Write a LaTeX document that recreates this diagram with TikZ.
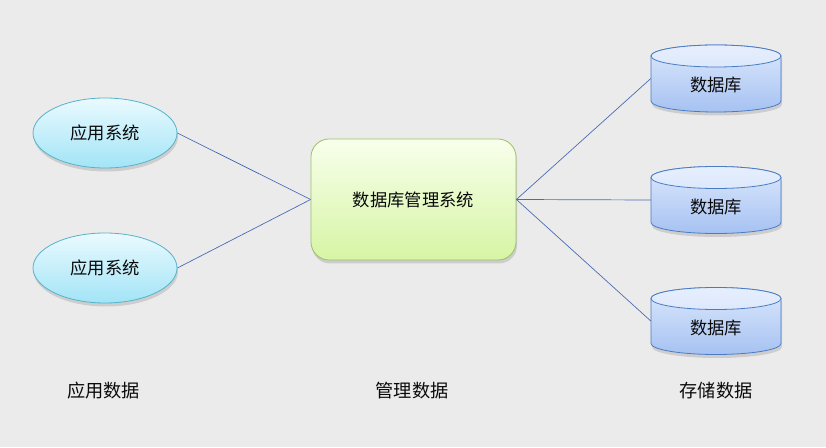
\documentclass[tikz,border=0pt]{standalone}
\usepackage{fontspec}
\setmainfont{Noto Sans CJK SC}
\usetikzlibrary{shapes.geometric,shadows}

\definecolor{bgc}{HTML}{EBEBEB}
\definecolor{apptop}{HTML}{EAFAFF}
\definecolor{appbot}{HTML}{A2E4F6}
\definecolor{appline}{HTML}{58B2CA}
\definecolor{mgrtop}{HTML}{F8FFEC}
\definecolor{mgrbot}{HTML}{D6F5A4}
\definecolor{mgrline}{HTML}{9CC062}
\definecolor{dbtop}{HTML}{DCE8FC}
\definecolor{dbbot}{HTML}{A6C2F2}
\definecolor{dbline}{HTML}{4A7CC4}
\definecolor{linkc}{HTML}{4A6CB4}
\definecolor{txt}{HTML}{0A0A0A}

\tikzset{
  softshadow/.style={drop shadow={opacity=0.28, shadow xshift=1pt, shadow yshift=-3.5pt}},
  appnode/.style={ellipse, minimum width=144pt, minimum height=70pt, inner sep=0pt,
    draw=appline, line width=0.8pt, top color=apptop, bottom color=appbot, softshadow},
  mgrnode/.style={rectangle, rounded corners=18pt, minimum width=205pt, minimum height=121pt,
    inner sep=0pt, draw=mgrline, line width=0.8pt, top color=mgrtop, bottom color=mgrbot, softshadow},
  dbbody/.style={rectangle, minimum width=130pt, minimum height=67pt, inner sep=0pt},
  dbfill/.style={draw=dbline, line width=0.8pt, top color=dbtop, bottom color=dbbot, softshadow},
  dbcap/.style={draw=dbline, line width=0.8pt, top color=dbtop!70!white, bottom color=dbtop},
  link/.style={draw=linkc, line width=0.7pt},
  caption/.style={text=txt, inner sep=0pt},
  bigcaption/.style={caption, font=\fontsize{18.2}{20}\selectfont}
}

% database cylinder: #1 name, #2 centre x, #3 centre y
\newcommand\dbcylinder[3]{%
  \path[dbfill] (#2-65,#3+22.5) -- (#2-65,#3-22.5)
    arc[start angle=180, end angle=360, x radius=65, y radius=11]
    -- (#2+65,#3+22.5)
    arc[start angle=0, end angle=180, x radius=65, y radius=11] -- cycle;
  \path[dbcap] (#2,#3+22.5) ellipse[x radius=65, y radius=11];
  \node[dbbody] (#1) at (#2,#3) {};
  \node[caption] (#1t) at ([yshift=-6.5pt]#1.center) {数据库};
}

\begin{document}
\begin{tikzpicture}[x=1pt, y=1pt, font=\fontsize{17.3}{19}\selectfont]
  \fill[bgc] (0,0) rectangle (826,447);
  \useasboundingbox (0,0) rectangle (826,447);

  % applications
  \node[appnode, text=txt] (app1) at (105,314) {应用系统};
  \node[appnode, text=txt] (app2) at (105,179) {应用系统};

  % management system
  \node[mgrnode, text=txt] (dbms) at (413.5,247.5) {数据库管理系统};

  % storage
  \dbcylinder{db1}{716}{368.5}
  \dbcylinder{db2}{716}{247}
  \dbcylinder{db3}{716}{126}

  % connections
  \draw[link] (app1.east) -- (dbms.west);
  \draw[link] (app2.east) -- (dbms.west);
  \draw[link] (dbms.east) -- (db1.west);
  \draw[link] (dbms.east) -- (db2.west);
  \draw[link] (dbms.east) -- (db3.west);

  % layer captions
  \node[bigcaption] (lab1) at (103.5,56) {应用数据};
  \node[bigcaption] (lab2) at (412,56) {管理数据};
  \node[bigcaption] (lab3) at (716,56) {存储数据};
\end{tikzpicture}
\end{document}
